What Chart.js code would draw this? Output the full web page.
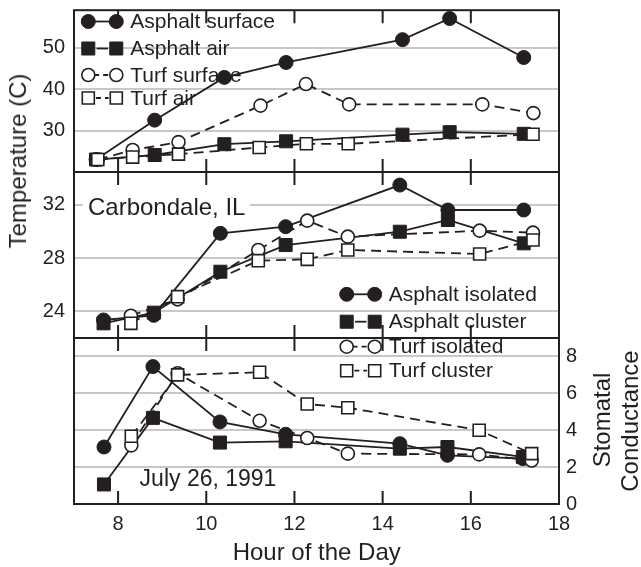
<!DOCTYPE html>
<html><head><meta charset="utf-8">
<script src="https://cdn.jsdelivr.net/npm/chart.js@4/dist/chart.umd.min.js"></script>
<style>
html,body{margin:0;padding:0;background:#fff;}
#wrap{position:relative;width:641px;height:567px;overflow:hidden;font-family:"Liberation Sans",Arial,Helvetica,sans-serif;color:#231f20;}
canvas{position:absolute;left:0;top:0;}
.t{position:absolute;white-space:nowrap;line-height:1;}
</style></head><body>
<div id="wrap">
<canvas id="c1" width="641" height="567"></canvas>
<canvas id="c2" width="641" height="567"></canvas>
<canvas id="c3" width="641" height="567"></canvas>
<div class="t" style="left:18px;top:161px;font-size:24px;transform:translate(-50%,-50%) rotate(-90deg);">Temperature (C)</div>
<div class="t" style="left:601.7px;top:420px;font-size:24px;transform:translate(-50%,-50%) rotate(-90deg);">Stomatal</div>
<div class="t" style="left:630px;top:421px;font-size:24px;transform:translate(-50%,-50%) rotate(-90deg);">Conductance</div>
<div class="t" style="left:316.7px;top:551.7px;font-size:24px;transform:translate(-50%,-50%);">Hour of the Day</div>
<div class="t" style="left:83px;top:206.7px;font-size:24px;padding:0 5px;background:#fff;transform:translateY(-50%);">Carbondale, IL</div>
<div class="t" style="left:208px;top:478.3px;font-size:23px;transform:translate(-50%,-50%);">July 26, 1991</div>
</div>
<script>
// ---- Data ----
const hourTicks = [8, 10, 12, 14, 16, 18];
const topTicks = [30, 40, 50];
const midTicks = [24, 28, 32];
const condTicks = [0, 2, 4, 6, 8];

// Top panel: air / surface temperature (C)
const hoursTopAsphalt = [7.5, 8.83, 10.41, 11.81, 14.45, 15.52, 17.2];
const asphaltSurface = [23.0, 32.5, 42.8, 46.4, 51.9, 57.0, 47.6];
const asphaltAir = [23.0, 24.1, 26.7, 27.4, 29.0, 29.6, 29.2];
const hoursTopTurfSurface = [7.54, 8.33, 9.37, 11.23, 12.26, 13.24, 16.26, 17.42];
const turfSurface = [23.0, 25.3, 27.2, 36.0, 41.2, 36.3, 36.3, 34.2];
const hoursTopTurfAir = [7.54, 8.33, 9.37, 11.2, 12.27, 13.22, 17.41];
const turfAir = [23.0, 23.6, 24.3, 25.9, 26.8, 26.8, 29.1];

// Middle panel: leaf temperature (C)
const hoursMidAsphalt = [7.67, 8.81, 10.32, 11.8, 14.39, 15.48, 17.2];
const asphaltIsolatedTemp = [23.35, 23.7, 29.85, 30.35, 33.47, 31.6, 31.6];
const asphaltClusterTemp = [23.1, 23.9, 26.97, 28.97, 29.97, 30.85, 29.1];
const hoursMidTurf = [8.29, 9.35, 11.18, 12.29, 13.21, 16.2, 17.41];
const turfIsolatedTemp = [23.67, 24.9, 28.6, 30.8, 29.6, 30.05, 29.9];
const turfClusterTemp = [23.1, 25.1, 27.8, 27.9, 28.6, 28.3, 29.35];

// Bottom panel: stomatal conductance
const hoursLowAsphalt = [7.68, 8.79, 10.31, 11.8, 14.39, 15.47, 17.18];
const asphaltIsolatedCond = [3.09, 7.45, 4.45, 3.78, 3.27, 2.64, 2.46];
const asphaltClusterCond = [1.06, 4.67, 3.33, 3.4, 3.0, 3.09, 2.55];
const hoursLowTurf = [8.3, 9.35, 11.21, 12.29, 13.21, 16.19, 17.38];
const turfIsolatedCond = [3.18, 7.09, 4.51, 3.58, 2.73, 2.69, 2.36];
const turfClusterCond = [3.67, 7.0, 7.14, 5.42, 5.22, 4.0, 2.73];

// ---- Styling ----
const FONT = '"Liberation Sans", Arial, Helvetica, sans-serif';
const INK = '#231f20';
const GRID = '#c8c8c8';
Chart.defaults.font.family = FONT;
Chart.defaults.color = INK;

const STYLE = {
  fc: {circle: true, filled: true, r: 7},
  fs: {circle: false, filled: true, r: 9.2},
  oc: {circle: true, filled: false, r: 6.5},
  os: {circle: false, filled: false, r: 8.5}
};

function ds(label, xs, ys, kind, yAxisID) {
  const s = STYLE[kind];
  return {
    label, yAxisID: yAxisID || 'y',
    data: xs.map((x, i) => ({x, y: ys[i]})),
    borderColor: INK, borderWidth: 1.8,
    borderDash: s.filled ? [] : [10, 6],
    pointStyle: s.circle ? 'circle' : 'rect',
    pointRadius: s.r, pointHoverRadius: s.r,
    pointBackgroundColor: s.filled ? INK : '#fff',
    pointBorderColor: INK, pointBorderWidth: s.filled ? 1 : 1.6,
    tension: 0, fill: false
  };
}

function drawMarker(ctx, kind, x, y) {
  const s = STYLE[kind];
  ctx.save();
  ctx.setLineDash([]);
  ctx.fillStyle = s.filled ? INK : '#fff';
  ctx.strokeStyle = INK;
  ctx.lineWidth = s.filled ? 1 : 1.6;
  ctx.beginPath();
  if (s.circle) ctx.arc(x, y, s.r, 0, Math.PI * 2);
  else { const h = s.r * Math.SQRT1_2; ctx.rect(x - h, y - h, 2 * h, 2 * h); }
  ctx.fill(); ctx.stroke();
  ctx.restore();
}

function panelPlugin(legend) {
  return {
    id: 'panel',
    beforeDatasetsDraw(chart) {
      const ctx = chart.ctx;
      (legend || []).forEach(it => {
        const s = STYLE[it.kind];
        ctx.save();
        ctx.strokeStyle = INK; ctx.lineWidth = 1.8;
        ctx.setLineDash(s.filled ? [] : [5, 4]);
        ctx.beginPath();
        ctx.moveTo(it.x + s.r * 0.9, it.y); ctx.lineTo(it.x + 28 - s.r * 0.9, it.y);
        ctx.stroke();
        ctx.restore();
        drawMarker(ctx, it.kind, it.x, it.y);
        drawMarker(ctx, it.kind, it.x + 28, it.y);
        ctx.save();
        ctx.fillStyle = INK; ctx.font = '21px ' + FONT;
        ctx.textBaseline = 'middle'; ctx.textAlign = 'left';
        ctx.fillText(it.label, it.x + 42, it.y + 1);
        ctx.restore();
      });
    },
    afterDraw(chart) {
      const {ctx, chartArea: a} = chart;
      const x = chart.scales.x;
      ctx.save();
      ctx.strokeStyle = INK; ctx.lineWidth = 2; ctx.setLineDash([]);
      ctx.strokeRect(a.left, a.top, a.right - a.left, a.bottom - a.top);
      ctx.beginPath();
      hourTicks.filter(v => v < 18).forEach(v => {
        const px = x.getPixelForValue(v);
        ctx.moveTo(px, a.top); ctx.lineTo(px, a.top + 13);
        ctx.moveTo(px, a.bottom); ctx.lineTo(px, a.bottom - 13);
      });
      ctx.stroke();
      ctx.restore();
    }
  };
}

function leftAxis(min, max, ticks) {
  return {
    type: 'linear', position: 'left', min, max,
    afterBuildTicks: s => { s.ticks = ticks.map(v => ({value: v})); },
    afterFit: s => { s.width = 74; s.paddingTop = 0; s.paddingBottom = 0; },
    grid: {color: GRID, lineWidth: 2, drawTicks: false},
    border: {display: false},
    ticks: {font: {size: 20}, color: INK, padding: 9}
  };
}
function hiddenX() {
  return {type: 'linear', min: 7, max: 18, display: false};
}
const common = {responsive: false, animation: false, events: [],
  plugins: {legend: {display: false}, tooltip: {enabled: false}}};

// Top panel
new Chart(document.getElementById('c1'), {
  type: 'line',
  data: {datasets: [
    ds('Turf air', hoursTopTurfAir, turfAir, 'os'),
    ds('Turf surface', hoursTopTurfSurface, turfSurface, 'oc'),
    ds('Asphalt air', hoursTopAsphalt, asphaltAir, 'fs'),
    ds('Asphalt surface', hoursTopAsphalt, asphaltSurface, 'fc')
  ]},
  options: Object.assign({}, common, {
    layout: {padding: {left: 0, top: 5, right: 82, bottom: 395}},
    scales: {x: hiddenX(), y: leftAxis(20, 59, topTicks)}
  }),
  plugins: [panelPlugin([
    {label: 'Asphalt surface', kind: 'fc', x: 88.3, y: 21.5},
    {label: 'Asphalt air', kind: 'fs', x: 88.3, y: 48.5},
    {label: 'Turf surface', kind: 'oc', x: 88.3, y: 75},
    {label: 'Turf air', kind: 'os', x: 88.3, y: 98}
  ])]
});

// Middle panel
new Chart(document.getElementById('c2'), {
  type: 'line',
  data: {datasets: [
    ds('Turf cluster', hoursMidTurf, turfClusterTemp, 'os'),
    ds('Turf isolated', hoursMidTurf, turfIsolatedTemp, 'oc'),
    ds('Asphalt cluster', hoursMidAsphalt, asphaltClusterTemp, 'fs'),
    ds('Asphalt isolated', hoursMidAsphalt, asphaltIsolatedTemp, 'fc')
  ]},
  options: Object.assign({}, common, {
    layout: {padding: {left: 0, top: 172, right: 82, bottom: 229}},
    scales: {x: hiddenX(), y: leftAxis(22, 34.45, midTicks)}
  }),
  plugins: [panelPlugin([
    {label: 'Asphalt isolated', kind: 'fc', x: 346.7, y: 294.3},
    {label: 'Asphalt cluster', kind: 'fs', x: 346.7, y: 321.7}
  ])]
});

// Bottom panel
new Chart(document.getElementById('c3'), {
  type: 'line',
  data: {datasets: [
    ds('Turf cluster', hoursLowTurf, turfClusterCond, 'os'),
    ds('Turf isolated', hoursLowTurf, turfIsolatedCond, 'oc'),
    ds('Asphalt cluster', hoursLowAsphalt, asphaltClusterCond, 'fs'),
    ds('Asphalt isolated', hoursLowAsphalt, asphaltIsolatedCond, 'fc')
  ]},
  options: Object.assign({}, common, {
    layout: {padding: {left: 0, top: 338, right: 0, bottom: 33}},
    scales: {
      x: {
        type: 'linear', position: 'bottom', min: 7, max: 18,
        afterBuildTicks: s => { s.ticks = hourTicks.map(v => ({value: v})); },
        afterFit: s => { s.height = 30; s.paddingLeft = 0; s.paddingRight = 0; },
        grid: {display: false, drawTicks: false},
        border: {display: false},
        ticks: {font: {size: 20}, color: INK, padding: 8, maxRotation: 0, autoSkip: false}
      },
      yl: {
        type: 'linear', position: 'left', min: 0, max: 9,
        afterFit: s => { s.width = 74; s.paddingTop = 0; s.paddingBottom = 0; },
        grid: {display: false, drawTicks: false},
        border: {display: false},
        ticks: {display: false}
      },
      y: {
        type: 'linear', position: 'right', min: 0, max: 9,
        afterBuildTicks: s => { s.ticks = condTicks.map(v => ({value: v})); },
        afterFit: s => { s.width = 82; s.paddingTop = 0; s.paddingBottom = 0; },
        grid: {color: GRID, lineWidth: 2, drawTicks: false},
        border: {display: false},
        ticks: {font: {size: 20}, color: INK, padding: 7}
      }
    }
  }),
  plugins: [panelPlugin([
    {label: 'Turf isolated', kind: 'oc', x: 346.7, y: 346.7},
    {label: 'Turf cluster', kind: 'os', x: 346.7, y: 370.7}
  ])]
});
</script>
</body></html>
